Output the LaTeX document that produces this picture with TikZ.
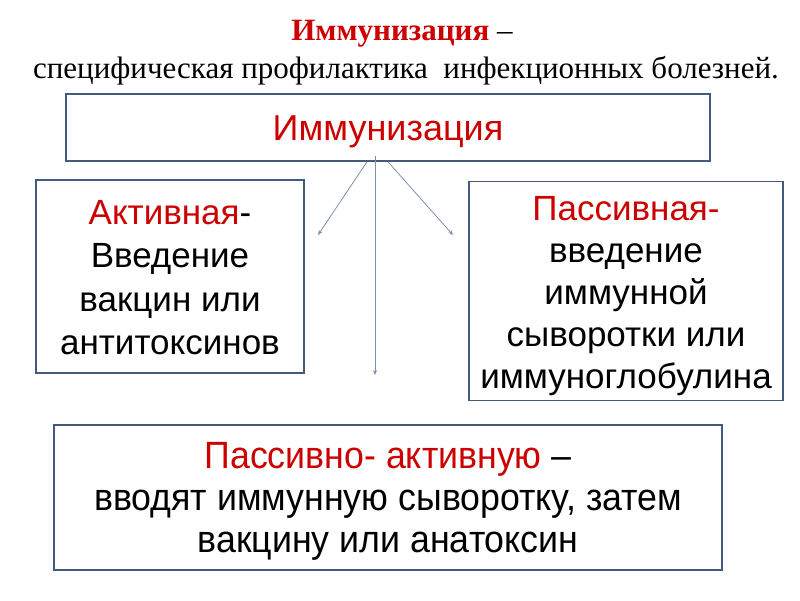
\documentclass[tikz,border=0pt]{standalone}
\usepackage{fontspec}
\setmainfont{Liberation Sans}
\newfontfamily\titlefont{Liberation Serif}
\newfontfamily\narrowfont[FakeStretch=0.94]{Liberation Sans}
\usetikzlibrary{arrows.meta,positioning}
\definecolor{FrameBlue}{RGB}{68,90,122}
\definecolor{LinkBlue}{RGB}{125,145,175}
\definecolor{TermRed}{RGB}{204,0,0}
\tikzset{
  framebox/.style={draw=FrameBlue,line width=1.6pt,fill=white,inner sep=0pt},
  boxtext/.style={align=center,inner sep=0pt,font=\fontsize{35}{43.5}\selectfont},
  link/.style={-{Stealth[length=5pt,width=4pt]},line width=0.8pt,draw=LinkBlue},
}

\begin{document}
\begin{tikzpicture}[x=1pt,y=-1pt]
\useasboundingbox (0,0) rectangle (800,600);
\node[font=\titlefont\fontsize{31}{36}\selectfont] (title) at (402,34) {\textbf{\color{TermRed}Иммунизация} –};
\node[font=\titlefont\fontsize{31}{36}\selectfont] (subtitle) at (406,71) {специфическая профилактика\ \ инфекционных болезней.};
% boxes, text sits a little below the centre as in the slide
\node[framebox,minimum width=644pt,minimum height=67pt,
  label={[boxtext,font=\fontsize{36}{43}\selectfont,yshift=-4pt]center:{\color{TermRed}Иммунизация}}] (imm) at (388,127.5) {};
\node[framebox,minimum width=268pt,minimum height=193pt,
  label={[boxtext,yshift=-1pt]center:{{\color{TermRed}Активная}-\\Введение\\вакцин или\\антитоксинов}}] (active) at (170,276.5) {};
\node[framebox,minimum width=314pt,minimum height=219pt,
  label={[boxtext,font=\fontsize{35}{42}\selectfont,yshift=-5pt]center:{{\color{TermRed}Пассивная-}\\введение\\иммунной\\сыворотки или\\иммуноглобулина}}] (passive) at (626,291) {};
\node[framebox,minimum width=668pt,minimum height=145pt,
  label={[boxtext,font=\narrowfont\fontsize{38}{42}\selectfont,yshift=-4pt]center:{{\color{TermRed}Пассивно- активную} –\\вводят иммунную сыворотку, затем\\вакцину или анатоксин}}] (mixed) at (388,497.5) {};
% connectors
\coordinate (endL) at (318,235);
\coordinate (endM) at (375,375);
\coordinate (endR) at (453,235);
\draw[link] ([xshift=-21pt]imm.south) -- (endL);
\draw[link] ([xshift=-13pt,yshift=6pt]imm.south) -- (endM);
\draw[link] (imm.south) -- (endR);
\end{tikzpicture}
\end{document}
